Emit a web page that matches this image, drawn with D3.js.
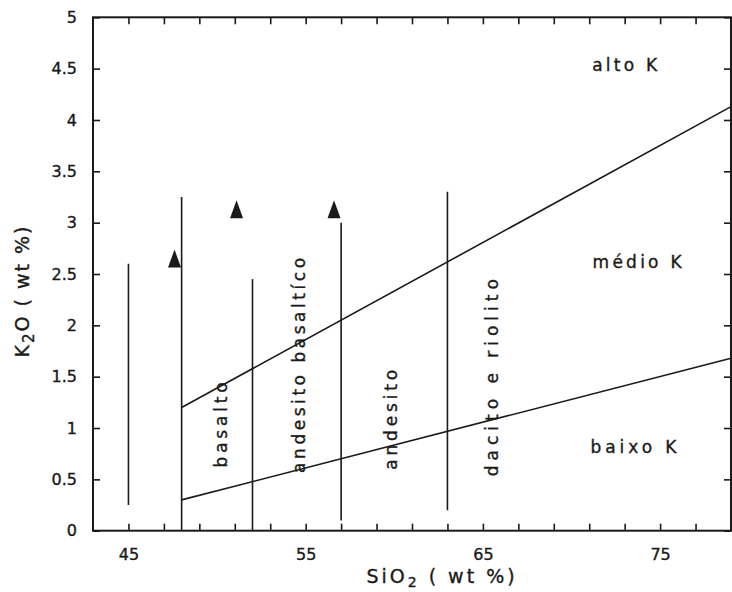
<!DOCTYPE html>
<html>
<head>
<meta charset="utf-8">
<script src="https://cdn.jsdelivr.net/npm/d3@7"></script>
<style>
  html, body { margin: 0; padding: 0; background: #fff; }
  svg { display: block; }
  text { font-family: "DejaVu Sans", sans-serif; fill: #1a1a1a; stroke: #1a1a1a; stroke-width: 0.35px; }
</style>
</head>
<body>
<script>
// ---- data ----
const xTickValues = [45, 47, 49, 51, 53, 55, 57, 59, 61, 63, 65, 67, 69, 71, 73, 75, 77];
const xTickLabels = [45, 55, 65, 75];
const yTickValues = [0, 0.5, 1, 1.5, 2, 2.5, 3, 3.5, 4, 4.5, 5];
const yTickLabels = ["0", "0.5", "1", "1.5", "2", "2.5", "3", "3.5", "4", "4.5", "5"];

// vertical SiO2 divisions
const divisionSiO2 = [45, 48, 52, 57, 63];
const divisionLow  = [0.25, 0, 0, 0.1, 0.2];
const divisionHigh = [2.6, 3.25, 2.45, 3.0, 3.3];

// K series boundaries
const boundarySiO2 = [48, 79];
const highKBoundary = [1.2, 4.13];
const lowKBoundary  = [0.3, 1.68];

// samples (triangles)
const sampleSiO2 = [47.6, 51.1, 56.6];
const sampleK2O  = [2.65, 3.13, 3.13];

// rock field labels (rotated)
const rockNames = ["basalto", "andesito basaltíco", "andesito", "dacito e riolito"];
const rockSiO2  = [50.2, 54.6, 59.8, 65.5];
const rockK2O   = [1.03, 1.61, 1.08, 1.49];

// series labels
const seriesNames = ["alto K", "médio K", "baixo K"];
const seriesSiO2  = [73.0, 73.7, 73.5];
const seriesK2O   = [4.48, 2.56, 0.76];

// ---- chart ----
const W = 732, H = 592;
const svg = d3.select("body").append("svg").attr("width", W).attr("height", H);

const x = d3.scaleLinear().domain([43, 79]).range([93, 731]);
const y = d3.scaleLinear().domain([0, 5]).range([530.7, 17.3]);

const ink = "#1a1a1a";

// axes (ticks inward)
const bottomAxis = d3.axisBottom(x).tickValues(xTickValues).tickSize(-7)
  .tickFormat(d => xTickLabels.includes(d) ? d : "").tickPadding(18);
const topAxis = d3.axisTop(x).tickValues(xTickValues).tickSize(-7).tickFormat("");
const leftAxis = d3.axisLeft(y).tickValues(yTickValues).tickSize(-7)
  .tickFormat((d, i) => yTickLabels[i]).tickPadding(16);
const rightAxis = d3.axisRight(y).tickValues(yTickValues).tickSize(-7).tickFormat("");

function styleAxis(g) {
  g.select(".domain").remove();
  g.selectAll(".tick line").attr("stroke", ink).attr("stroke-width", 1.6);
  g.selectAll(".tick text").attr("fill", ink).style("font-size", "16px")
    .style("font-family", "DejaVu Sans, sans-serif");
}
svg.append("g").attr("transform", `translate(0,${y(0)})`).call(bottomAxis).call(styleAxis);
svg.append("g").attr("transform", `translate(0,${y(5)})`).call(topAxis).call(styleAxis);
svg.append("g").attr("transform", `translate(${x(43)},0)`).call(leftAxis).call(styleAxis);
svg.append("g").attr("transform", `translate(${x(79)},0)`).call(rightAxis).call(styleAxis);

// frame
svg.append("rect")
  .attr("x", x(43)).attr("y", y(5))
  .attr("width", x(79) - x(43)).attr("height", y(0) - y(5))
  .attr("fill", "none").attr("stroke", ink).attr("stroke-width", 2);

// vertical divisions
svg.append("g").selectAll("line").data(divisionSiO2).join("line")
  .attr("x1", d => x(d)).attr("x2", d => x(d))
  .attr("y1", (d, i) => y(divisionLow[i])).attr("y2", (d, i) => y(divisionHigh[i]))
  .attr("stroke", ink).attr("stroke-width", 1.6);

// boundaries
const line = d3.line().x(d => x(d[0])).y(d => y(d[1]));
[highKBoundary, lowKBoundary].forEach(b => {
  svg.append("path")
    .attr("d", line(boundarySiO2.map((s, i) => [s, b[i]])))
    .attr("fill", "none").attr("stroke", ink).attr("stroke-width", 1.6);
});

// triangles
svg.append("g").selectAll("path").data(sampleSiO2).join("path")
  .attr("d", (d, i) => {
    const cx = x(d), cy = y(sampleK2O[i]);
    return `M${cx - 6.5},${cy + 9}L${cx},${cy - 9}L${cx + 6.5},${cy + 9}Z`;
  })
  .attr("fill", ink);

// rock field labels
const rockLen = [85, 215, 100, 197];
svg.append("g").selectAll("text").data(rockNames).join("text")
  .attr("transform", (d, i) => `translate(${x(rockSiO2[i]) + 6},${y(rockK2O[i])}) rotate(-90)`)
  .attr("text-anchor", "middle")
  .attr("textLength", (d, i) => rockLen[i]).attr("lengthAdjust", "spacing")
  .style("font-size", "17px")
  .text(d => d);

// series labels
const seriesLen = [65, 89, 86];
svg.append("g").selectAll("text").data(seriesNames).join("text")
  .attr("x", (d, i) => x(seriesSiO2[i])).attr("y", (d, i) => y(seriesK2O[i]))
  .attr("text-anchor", "middle")
  .attr("textLength", (d, i) => seriesLen[i]).attr("lengthAdjust", "spacing")
  .style("font-size", "17px")
  .text(d => d);

// axis titles
const xt = svg.append("text")
  .attr("x", 442).attr("y", 583)
  .attr("text-anchor", "middle")
  .style("font-size", "19px").style("letter-spacing", "3px");
xt.append("tspan").text("SiO");
xt.append("tspan").attr("dy", 4).style("font-size", "14px").text("2");
xt.append("tspan").attr("dy", -4).text(" ( wt  %)");

const yt = svg.append("text")
  .attr("transform", "translate(29,291) rotate(-90)")
  .attr("text-anchor", "middle")
  .style("font-size", "19px").style("letter-spacing", "2px");
yt.append("tspan").text("K");
yt.append("tspan").attr("dy", 5).style("font-size", "15px").text("2");
yt.append("tspan").attr("dy", -5).text("O ( wt  %)");
</script>
</body>
</html>
